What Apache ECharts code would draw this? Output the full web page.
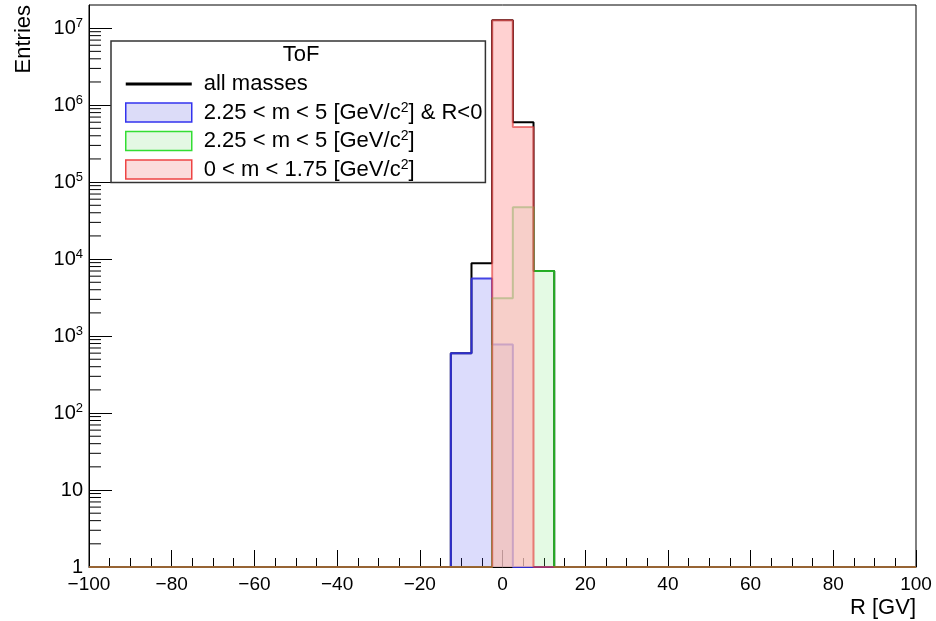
<!DOCTYPE html>
<html><head><meta charset="utf-8">
<script src="https://cdn.jsdelivr.net/npm/echarts@6/dist/echarts.min.js"></script>
<style>html,body{margin:0;padding:0;background:#fff}#c{width:936px;height:621px}</style>
</head><body><div id="c"></div>
<script>
// Bin edges (GV) of the non-empty region, and counts per bin
const binEdges = [-12.5, -7.5, -2.5, 2.5, 7.5, 12.5];
const allMasses = [600, 8800, 12700000, 600000, 7000];
const heavyNeg  = [600, 5600, 780, 0, 0];
const heavy     = [0, 0, 3100, 47000, 7000];
const light     = [0, 0, 12700000, 520000, 0];
const seriesNames = ['all masses', '2.25 < m < 5 [GeV/c2] & R<0', '2.25 < m < 5 [GeV/c2]', '0 < m < 1.75 [GeV/c2]'];
const legendRich = {
  'all masses': 'all masses',
  '2.25 < m < 5 [GeV/c2] & R<0': '2.25 < m < 5 [GeV/c{sup|2}] & R<0',
  '2.25 < m < 5 [GeV/c2]': '2.25 < m < 5 [GeV/c{sup|2}]',
  '0 < m < 1.75 [GeV/c2]': '0 < m < 1.75 [GeV/c{sup|2}]'
};
const xMin = -100, xMax = 100, yMin = 1, yMax = 2e7;

function stepData(counts) {
  const pts = [[xMin, yMin]];
  counts.forEach((c, i) => pts.push([binEdges[i], Math.max(c, yMin)]));
  pts.push([binEdges[binEdges.length - 1], yMin]);
  pts.push([xMax, yMin]);
  return pts;
}
// log minor tick positions 2..9 x 10^n
const minorTicks = [];
for (let d = 1; d < yMax; d *= 10) for (let k = 2; k <= 9; k++) if (k * d < yMax) minorTicks.push([xMin, k * d]);

const FONT = 'Liberation Sans';
const chart = echarts.init(document.getElementById('c'));
function hist(name, counts, line, fill, z) {
  return {
    name, type: 'line', step: 'end', data: stepData(counts), symbol: 'none', z,
    lineStyle: { color: line, width: 2 }, itemStyle: { color: line },
    areaStyle: fill ? { color: fill, origin: 'start', opacity: 1 } : undefined,
    animation: false, silent: true
  };
}
chart.setOption({
  animation: false,
  grid: { left: 89, right: 20, top: 5, bottom: 54, show: true, borderColor: '#000', borderWidth: 1 },
  xAxis: {
    type: 'value', min: xMin, max: xMax, interval: 20,
    axisLine: { onZero: false, lineStyle: { color: '#000', width: 1 } },
    axisTick: { inside: true, length: 17, lineStyle: { color: '#000' } },
    minorTick: { show: true, splitNumber: 4, length: 9, lineStyle: { color: '#000' } },
    splitLine: { show: false },
    axisLabel: { fontFamily: FONT, fontSize: 19, color: '#000', margin: 8,
      formatter: v => v < 0 ? '\u2212' + Math.abs(v) : String(v) }
  },
  yAxis: {
    type: 'log', logBase: 10, min: yMin, max: yMax, interval: 1,
    axisLine: { show: true, onZero: false, lineStyle: { color: '#000', width: 1 } },
    axisTick: { inside: true, length: 23, lineStyle: { color: '#000' } },
    splitLine: { show: false },
    axisLabel: { fontFamily: FONT, fontSize: 20, color: '#000', margin: 6, showMaxLabel: false,
      formatter: v => {
        const e = Math.round(Math.log10(v));
        if (Math.abs(Math.log10(v) - e) > 1e-6) return '';
        if (e === 0) return '1';
        if (e === 1) return '10';
        return '10{sup|' + e + '}';
      },
      rich: { sup: { fontSize: 13, verticalAlign: 'top', fontFamily: FONT, color: '#000', padding: [0, 0, 9, 0] } }
    }
  },
  legend: {
    orient: 'vertical', left: 111, top: 41, padding: [32, 3, 2, 14],
    itemWidth: 66, itemHeight: 19, itemGap: 6,
    borderColor: '#333', borderWidth: 1.5, backgroundColor: '#fff',
    textStyle: { fontFamily: FONT, fontSize: 22, color: '#000', padding: [0, 0, 0, 7],
      rich: { sup: { fontSize: 14, fontFamily: FONT, color: '#000', verticalAlign: 'top', padding: [0, 0, 9, 0] } } },
    formatter: n => legendRich[n] || n,
    data: [
      { name: seriesNames[0], icon: 'path://M0,0 L66,0 L66,3 L0,3 Z', itemStyle: { color: '#000' } },
      { name: seriesNames[1], icon: 'rect', itemStyle: { color: '#dcdcf8', borderColor: '#3333ee', borderWidth: 1.5 } },
      { name: seriesNames[2], icon: 'rect', itemStyle: { color: '#e4f8e4', borderColor: '#33dd33', borderWidth: 1.5 } },
      { name: seriesNames[3], icon: 'rect', itemStyle: { color: '#fbdcdc', borderColor: '#ee4444', borderWidth: 1.5 } }
    ]
  },
  graphic: [
    { type: 'text', x: 301, y: 55, z: 100, style: { text: 'ToF', font: '22px "Liberation Sans"', fill: '#000', align: 'center', verticalAlign: 'middle' } },
    { type: 'text', x: 24, y: 5, rotation: Math.PI / 2, style: { text: 'Entries', font: '22px "Liberation Sans"', fill: '#000', align: 'right', verticalAlign: 'middle' } },
    { type: 'text', x: 916, y: 608, style: { text: 'R [GV]', font: '22px "Liberation Sans"', fill: '#000', align: 'right', verticalAlign: 'middle' } }
  ],
  series: [
    hist(seriesNames[0], allMasses, '#000', null, 2),
    hist(seriesNames[1], heavyNeg, 'rgba(50,50,225,0.9)', 'rgba(80,80,240,0.2)', 3),
    hist(seriesNames[2], heavy, 'rgba(40,190,40,0.9)', 'rgba(120,230,120,0.2)', 4),
    hist(seriesNames[3], light, 'rgba(225,50,50,0.6)', 'rgba(255,190,190,0.7)', 5),
    { type: 'custom', data: minorTicks, silent: true, z: 10, clip: false,
      renderItem: (params, api) => {
        const p = api.coord([api.value(0), api.value(1)]);
        return { type: 'line', shape: { x1: p[0], y1: p[1], x2: p[0] + 12, y2: p[1] }, style: { stroke: '#000', lineWidth: 1 } };
      } }
  ]
});
</script></body></html>
